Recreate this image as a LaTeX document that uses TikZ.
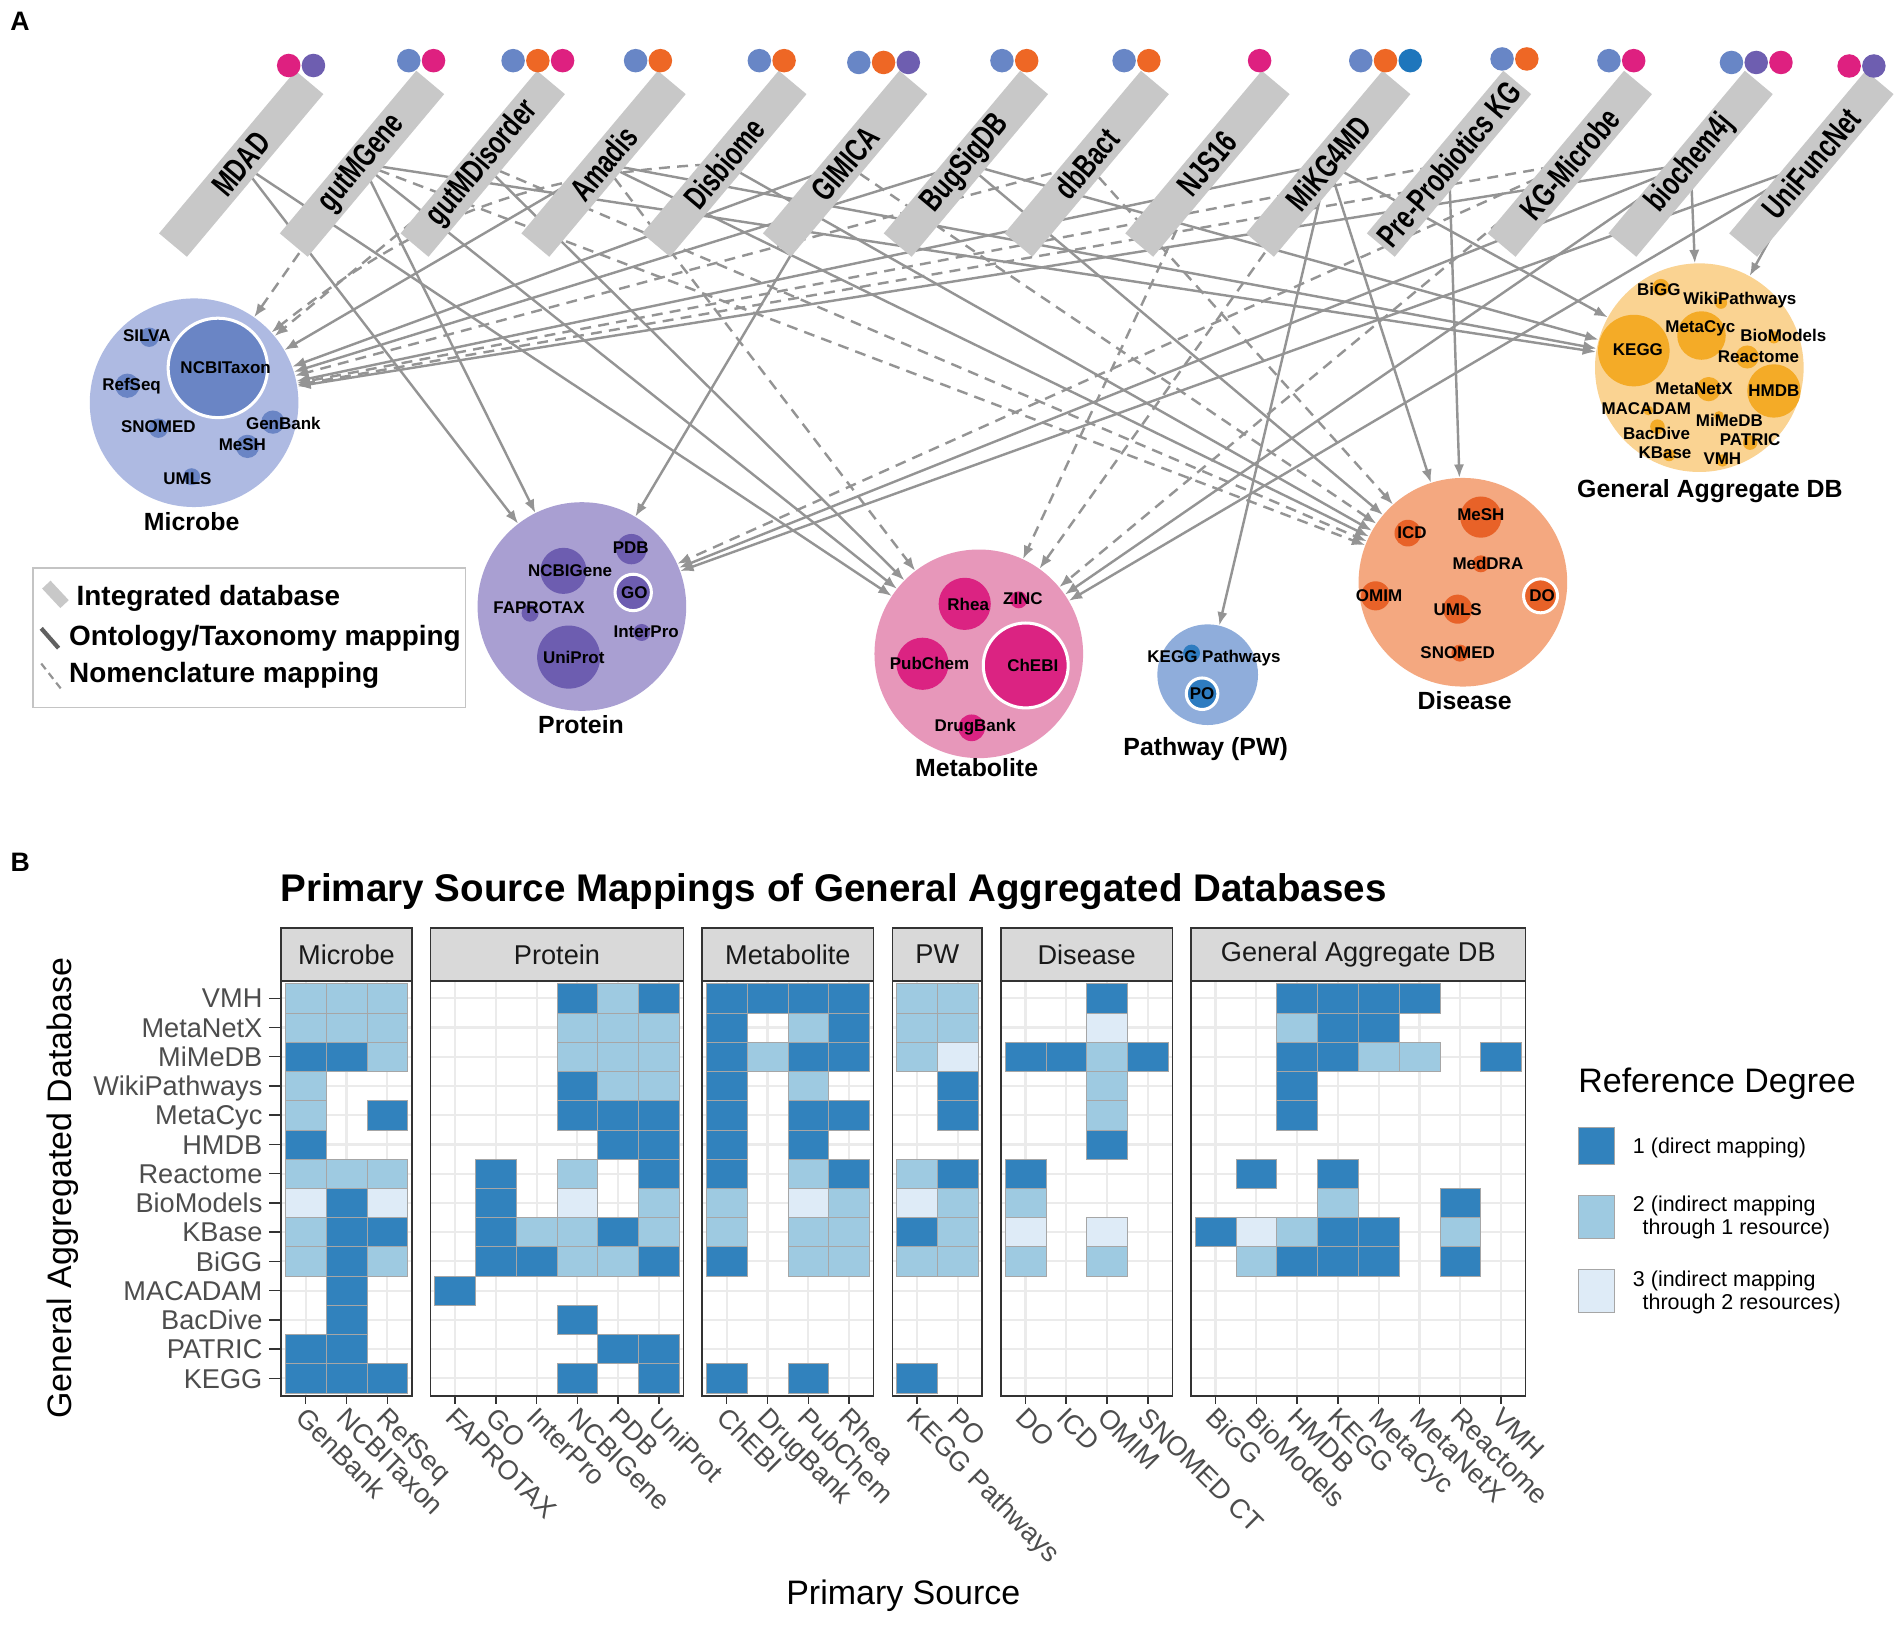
\documentclass[tikz,border=0pt]{standalone}
\usepackage{fontspec}
\setmainfont{Liberation Sans}
\newfontfamily\condfont{Liberation Sans}[FakeStretch=0.72]
\usetikzlibrary{arrows.meta,positioning,calc}

\definecolor{barfill}{HTML}{C8C8C8}
\definecolor{edgegray}{HTML}{949494}
\definecolor{legframe}{HTML}{C4C4C4}
\definecolor{micdot}{HTML}{6886C6}
\definecolor{metdot}{HTML}{DE2080}
\definecolor{prodot}{HTML}{6E5EB0}
\definecolor{disdot}{HTML}{EE6725}
\definecolor{pwdot}{HTML}{1E76BC}
\definecolor{micout}{HTML}{AEBAE2}
\definecolor{micin}{HTML}{6A85C5}
\definecolor{proout}{HTML}{A99FD2}
\definecolor{proin}{HTML}{6D5DB0}
\definecolor{metout}{HTML}{E797BA}
\definecolor{metin}{HTML}{DB2382}
\definecolor{pwout}{HTML}{8FADDB}
\definecolor{pwin}{HTML}{2E7CC0}
\definecolor{disout}{HTML}{F4A880}
\definecolor{disin}{HTML}{E86228}
\definecolor{gaout}{HTML}{FAD392}
\definecolor{gain}{HTML}{F4AB27}
\definecolor{deg1}{HTML}{3182BD}
\definecolor{deg2}{HTML}{9ECAE1}
\definecolor{deg3}{HTML}{DEEBF7}
\definecolor{gridgray}{HTML}{EBEBEB}
\definecolor{axisgray}{HTML}{4D4D4D}
\definecolor{framegray}{HTML}{333333}
\definecolor{stripgray}{HTML}{D9D9D9}

\pgfdeclarelayer{paper}
\pgfdeclarelayer{links}
\pgfsetlayers{paper,links,main}

\tikzset{
  catnode/.style={circle, inner sep=0pt, minimum size=172pt},
  catlab/.style={font=\bfseries\fontsize{20.5}{22}\selectfont},
  sublab/.style={inner sep=0pt, font=\bfseries\fontsize{14}{15}\selectfont},
  ringdot/.style={draw=white, line width=2.5pt},
  dbbar/.style={fill=barfill, rotate=50, minimum width=175pt, minimum height=30pt,
    inner sep=0pt, font=\condfont\bfseries\fontsize{27}{27}\selectfont},
  onto/.style={draw=edgegray, line width=2pt, ->},
  nomen/.style={onto, dash pattern=on 9pt off 6pt},
  legtxt/.style={anchor=west, inner sep=0pt, font=\bfseries\fontsize{23}{25}\selectfont},
  hmgrid/.style={draw=gridgray, line width=1.8pt},
  tile/.style={draw=black!35, line width=0.5pt},
  hmframe/.style={draw=framegray, line width=1.3pt},
  hmstrip/.style={fill=stripgray, draw=framegray, line width=1.3pt},
  striplab/.style={text=black!90, font=\fontsize{22.4}{24}\selectfont},
  collab/.style={rotate=-45, anchor=north west, inner sep=0pt, text=axisgray,
    font=\fontsize{22.4}{24}\selectfont},
  rowlab/.style={anchor=base east, inner sep=0pt, text=axisgray, font=\fontsize{22.4}{24}\selectfont},
  hmtick/.style={draw=framegray, line width=1.2pt},
  keytxt/.style={anchor=west, inner sep=0pt, align=left, font=\fontsize{17.7}{19}\selectfont},
}

% heatmap geometry
\newcommand{\hmcw}{33.63}
\newcommand{\hmrh}{24.1}
\newcommand{\hmtop}{808.5}
\newcommand{\hmbot}{1150.7}
\newcommand{\hmstriptop}{765}

% #1 left x, #2 columns, #3 strip, #4 column labels, #5 rows, #6 id
\newcommand{\hmpanel}[6]{%
  \pgfmathsetmacro{\hmright}{#1+(#2+0.2)*\hmcw}%
  \foreach \ci in {1,...,#2}
    \draw[hmgrid] ({#1+(\ci-0.4)*\hmcw},\hmtop) -- ({#1+(\ci-0.4)*\hmcw},\hmbot);
  \foreach \ri in {1,...,14}
    \draw[hmgrid] (#1,{\hmtop+(\ri-0.4)*\hmrh}) -- (\hmright,{\hmtop+(\ri-0.4)*\hmrh});
  \foreach \hrow [count=\ri] in {#5} {
    \foreach \hv [count=\ci] in \hrow {
      \ifnum\hv>0
        \filldraw[tile, fill=deg\hv] ({#1+(\ci-0.9)*\hmcw},{\hmtop+(\ri-0.9)*\hmrh}) rectangle ++(\hmcw,\hmrh);
      \fi
    }
  }
  \draw[hmframe] (#1,\hmtop) rectangle (\hmright,\hmbot);
  \filldraw[hmstrip] (#1,\hmstriptop) rectangle (\hmright,\hmtop);
  \node[striplab] (strip#6) at ({(#1+\hmright)/2},{(\hmstriptop+\hmtop)/2}) {#3};
  \foreach \lab [count=\ci] in {#4} {
    \draw[hmtick] ({#1+(\ci-0.4)*\hmcw},\hmbot) -- ++(0,7);
    \node[collab] (#6col\ci) at ({#1+(\ci-0.4)*\hmcw+2},{\hmbot+8}) {\lab};
  }
}

\begin{document}
\begin{tikzpicture}[x=1pt, y=-1pt, >={Latex[length=11pt,width=8.5pt]}]
  \useasboundingbox (0,0) rectangle (1568,1339);
  \begin{pgfonlayer}{paper}
    \fill[white] (0,0) rectangle (1568,1339);
  \end{pgfonlayer}

  % ---- panel A ----
  \node[font=\bfseries\fontsize{22}{22}\selectfont] (labA) at (16.5,17.7) {A};

  % microbe
  \node[catnode, fill=micout] (microbe) at (160,332) {};
  \filldraw[fill=micin, ringdot] (179.6,303.3) circle[radius=41];
  \foreach \x/\y/\r in {123/278/8, 105/318/10, 130.6/353/8, 225/348/9.6, 204/368/9.6, 158/393/7}
    \fill[micin] (\x,\y) circle[radius=\r];
  \foreach \x/\y/\t [count=\k] in {121/277/SILVA, 108.5/318/RefSeq, 186/303/NCBITaxon,
      130.6/351.7/SNOMED, 233.6/348.7/GenBank, 199.8/366.4/MeSH, 154.5/394.4/UMLS}
    \node[sublab] (mic\k) at (\x,\y) {\t};
  \node[catlab] (miclab) at (158,429.7) {Microbe};

  % protein
  \node[catnode, fill=proout] (protein) at (479.7,500) {};
  \foreach \x/\y/\r in {464.5/470.6/19, 520.5/452.7/12.5, 437/505.5/7, 529/521.4/7, 468.8/541.7/26}
    \fill[proin] (\x,\y) circle[radius=\r];
  \filldraw[fill=proin, ringdot] (522,488.4) circle[radius=15];
  \foreach \x/\y/\t [count=\k] in {470/470.6/NCBIGene, 520/451.3/PDB, 523/488.4/GO,
      444.4/501.3/FAPROTAX, 532.7/521/InterPro, 473/541.7/UniProt}
    \node[sublab] (pro\k) at (\x,\y) {\t};
  \node[catlab] (prolab) at (479,597.5) {Protein};

  % metabolite
  \node[catnode, fill=metout] (metabolite) at (806.9,539) {};
  \foreach \x/\y/\r in {795.3/497.8/21.5, 839.8/494.5/7, 760.5/547.2/21.5, 801/600/11}
    \fill[metin] (\x,\y) circle[radius=\r];
  \filldraw[fill=metin, ringdot] (845.6,548.6) circle[radius=35];
  \foreach \x/\y/\t [count=\k] in {798.2/498.6/Rhea, 843.3/493.9/ZINC, 766.3/547.2/PubChem,
      851.4/548.8/ChEBI, 803.9/599.4/DrugBank}
    \node[sublab] (met\k) at (\x,\y) {\t};
  \node[catlab] (metlab) at (805.1,633) {Metabolite};

  % pathway
  \node[catnode, fill=pwout, minimum size=83pt] (pathway) at (995.6,556.2) {};
  \fill[pwin] (982.3,538.4) circle[radius=7];
  \filldraw[fill=pwin, ringdot] (991,571.9) circle[radius=13];
  \node[sublab] (pw1) at (1000.8,542.5) {KEGG Pathways};
  \node[sublab] (pw2) at (991,571.9) {PO};
  \node[catlab] (pwlab) at (993.9,617.5) {Pathway (PW)};

  % disease
  \node[catnode, fill=disout] (disease) at (1206,480) {};
  \foreach \x/\y/\r in {1220.8/426.3/17, 1160.6/439.5/11, 1220.8/464.8/7, 1134/491.2/12,
      1201.7/502.2/12, 1203.5/538.4/7}
    \fill[disin] (\x,\y) circle[radius=\r];
  \filldraw[fill=disin, ringdot] (1270,491.2) circle[radius=14];
  \foreach \x/\y/\t [count=\k] in {1220.8/424.4/MeSH, 1164/439.5/ICD, 1226.6/464.8/MedDRA,
      1136.9/491.2/OMIM, 1201.7/502.7/UMLS, 1271.2/490.9/DO, 1201.7/538.4/SNOMED}
    \node[sublab] (dis\k) at (\x,\y) {\t};
  \node[catlab] (dislab) at (1207.5,577.4) {Disease};

  % general aggregate DB
  \node[catnode, fill=gaout] (gadb) at (1400.9,303.1) {};
  \foreach \x/\y/\r in {1346.9/289/29.5, 1402.7/276.6/20, 1462.4/322.3/22, 1440.4/294.3/9.5,
      1408.6/320.8/10, 1369.2/236.9/7, 1418.8/249.6/5, 1462.4/278.1/5, 1358.9/338.4/4,
      1417.1/342.9/4, 1366.4/351.7/6, 1442.8/364.9/6, 1376/375.2/5, 1419.9/379.6/5}
    \fill[gain] (\x,\y) circle[radius=\r];
  \foreach \x/\y/\t [count=\k] in {1367.5/238.4/BiGG, 1434.3/247.2/WikiPathways,
      1401.7/270.8/MetaCyc, 1470.2/276.6/BioModels, 1350.3/288.4/KEGG, 1449.7/294.3/Reactome,
      1396.6/320.8/MetaNetX, 1462.4/321.7/HMDB, 1357.2/337/MACADAM, 1425.7/346.7/MiMeDB,
      1365.7/357.6/BacDive, 1442.8/362.6/PATRIC, 1372.6/373.2/KBase, 1419.9/378.2/VMH}
    \node[sublab] (ga\k) at (\x,\y) {\t};
  \node[catlab] (galab) at (1409.6,404.7) {General Aggregate DB};

  % integrated databases
  \foreach \t [count=\i from 0] in {MDAD, gutMGene, gutMDisorder, Amadis, Disbiome, GIMICA,
      BugSigDB, dbBact, NJS16, MiKG4MD, Pre-Probiotics KG, KG-Microbe, biochem4j, UniFuncNet}
    \node[dbbar] (b\i) at ({198.85+99.57*\i},135) {\t};
  \foreach \x/\y/\cols in {238/54/{metdot,prodot}, 337/50/{micdot,metdot},
      423/50/{micdot,disdot,metdot}, 524/50/{micdot,disdot}, 626/50/{micdot,disdot},
      708/51.5/{micdot,disdot,prodot}, 826/50/{micdot,disdot}, 926.7/50/{micdot,disdot},
      1038.4/50/{metdot}, 1121.8/50/{micdot,disdot,pwdot}, 1238.3/48.6/{micdot,disdot},
      1326.4/50/{micdot,metdot}, 1427.4/51.5/{micdot,prodot,metdot}, 1524.4/54.4/{metdot,prodot}}
    \foreach \dc [count=\k from 0] in \cols
      \fill[\dc] ({\x+20.4*\k},\y) circle[radius=9.7];

  % mappings (under the bars)
  \begin{pgfonlayer}{links}
    \foreach \s in {b1,b2,b7,b10,b11} \draw[nomen] (\s.center) -- (microbe);
    \draw[nomen] (b4.center) to[bend right=18] (microbe);
    \foreach \s in {b3,b5,b6,b9,b12} \draw[onto] (\s.center) -- (microbe);
    \foreach \s in {b0,b1,b5,b12,b13} \draw[onto] (\s.center) -- (protein);
    \draw[nomen] (b11.center) -- (protein);
    \foreach \s in {b0,b1,b2,b12,b13} \draw[onto] (\s.center) -- (metabolite);
    \foreach \s in {b3,b8,b9,b11} \draw[nomen] (\s.center) -- (metabolite);
    \draw[onto] (b9.center) -- (pathway);
    \foreach \s in {b3,b4,b6,b9,b10} \draw[onto] (\s.center) -- (disease);
    \foreach \s in {b1,b2,b5,b7} \draw[nomen] (\s.center) -- (disease);
    \foreach \s in {b1,b3,b6,b9,b12,b13} \draw[onto] (\s.center) -- (gadb);
  \end{pgfonlayer}

  % legend
  \draw[legframe, line width=1.5pt] (27.3,468.4) rectangle (383.8,583.2);
  \node[fill=barfill, rotate=-47, minimum width=22pt, minimum height=9.5pt, inner sep=0pt] (keybar) at (45.7,490) {};
  \node[legtxt] (keyint) at (63,493) {Integrated database};
  \coordinate (ontoA) at (34,518);
  \coordinate (ontoB) at (48.3,534.3);
  \draw[black!62, line width=3.5pt] (ontoA) -- (ontoB);
  \node[legtxt] (keyonto) at (56.8,526.6) {Ontology/Taxonomy mapping};
  \coordinate (nomA) at (34,547);
  \coordinate (nomB) at (50.4,568);
  \draw[edgegray, line width=1.8pt, dash pattern=on 6pt off 4pt] (nomA) -- (nomB);
  \node[legtxt] (keynom) at (56.8,557) {Nomenclature mapping};

  % ---- panel B ----
  \node[font=\bfseries\fontsize{22}{22}\selectfont] (labB) at (16.6,710.6) {B};
  \node[anchor=west, inner sep=0pt, font=\bfseries\fontsize{31.8}{34}\selectfont] (hmtitle) at (231,735)
    {Primary Source Mappings of General Aggregated Databases};

  \hmpanel{231.8}{3}{Microbe}{GenBank,NCBITaxon,RefSeq}
    {{2,2,2},{2,2,2},{1,1,2},{2,0,0},{2,0,1},{1,0,0},{2,2,2},{3,1,3},{2,1,1},{2,1,2},{0,1,0},{0,1,0},{1,1,0},{1,1,1}}{mic}
  \hmpanel{354.92}{6}{Protein}{FAPROTAX,GO,InterPro,NCBIGene,PDB,UniProt}
    {{0,0,0,1,2,1},{0,0,0,2,2,2},{0,0,0,2,2,2},{0,0,0,1,2,2},{0,0,0,1,1,1},{0,0,0,0,1,1},{0,1,0,2,0,1},
     {0,1,0,3,0,2},{0,1,2,2,1,2},{0,1,1,2,2,1},{1,0,0,0,0,0},{0,0,0,1,0,0},{0,0,0,0,1,1},{0,0,0,1,0,1}}{pro}
  \hmpanel{578.93}{4}{Metabolite}{ChEBI,DrugBank,PubChem,Rhea}
    {{1,1,1,1},{1,0,2,1},{1,2,1,1},{1,0,2,0},{1,0,1,1},{1,0,1,0},{1,0,2,1},{2,0,3,2},{2,0,2,2},{1,0,2,2},
     {0,0,0,0},{0,0,0,0},{0,0,0,0},{1,0,1,0}}{met}
  \hmpanel{735.68}{2}{PW}{KEGG Pathways,PO}
    {{2,2},{2,2},{2,3},{0,1},{0,1},{0,0},{2,1},{3,2},{1,2},{2,2},{0,0},{0,0},{0,0},{1,0}}{pw}
  \hmpanel{825.17}{4}{Disease}{DO,ICD,OMIM,SNOMED CT}
    {{0,0,1,0},{0,0,3,0},{1,1,2,1},{0,0,2,0},{0,0,2,0},{0,0,1,0},{1,0,0,0},{2,0,0,0},{3,0,3,0},{2,0,2,0},
     {0,0,0,0},{0,0,0,0},{0,0,0,0},{0,0,0,0}}{dis}
  \hmpanel{981.92}{8}{General Aggregate DB}{BiGG,BioModels,HMDB,KEGG,MetaCyc,MetaNetX,Reactome,VMH}
    {{0,0,1,1,1,1,0,0},{0,0,2,1,1,0,0,0},{0,0,1,1,2,2,0,1},{0,0,1,0,0,0,0,0},{0,0,1,0,0,0,0,0},
     {0,0,0,0,0,0,0,0},{0,1,0,1,0,0,0,0},{0,0,0,2,0,0,1,0},{1,3,2,1,1,0,2,0},{0,2,1,1,1,0,1,0},
     {0,0,0,0,0,0,0,0},{0,0,0,0,0,0,0,0},{0,0,0,0,0,0,0,0},{0,0,0,0,0,0,0,0}}{ga}

  \foreach \t [count=\ri] in {VMH,MetaNetX,MiMeDB,WikiPathways,MetaCyc,HMDB,Reactome,BioModels,
      KBase,BiGG,MACADAM,BacDive,PATRIC,KEGG} {
    \draw[hmtick] (222,{\hmtop+(\ri-0.4)*\hmrh}) -- (231.8,{\hmtop+(\ri-0.4)*\hmrh});
    \node[rowlab] (row\ri) at (216.5,{\hmtop+(\ri-0.4)*\hmrh+8}) {\t};
  }

  \node[rotate=90, font=\fontsize{28}{30}\selectfont] (ytitle) at (52,979.5) {General Aggregated Database};
  \node[font=\fontsize{28}{30}\selectfont] (xtitle) at (744.7,1315.6) {Primary Source};

  % reference degree legend
  \node[anchor=west, inner sep=0pt, font=\fontsize{28}{30}\selectfont] (legtitle) at (1301,893) {Reference Degree};
  \filldraw[tile, fill=deg1] (1301,929) rectangle (1331,960);
  \filldraw[tile, fill=deg2] (1301,985.6) rectangle (1331,1020.5);
  \filldraw[tile, fill=deg3] (1301,1046.6) rectangle (1331,1082);
  \node[keytxt] (deg1txt) at (1346,946) {1 (direct mapping)};
  \node[keytxt] (deg2txt) at (1346,1004) {2 (indirect mapping\\\hspace*{0.45em}through 1 resource)};
  \node[keytxt] (deg3txt) at (1346,1065.5) {3 (indirect mapping\\\hspace*{0.45em}through 2 resources)};
\end{tikzpicture}
\end{document}
